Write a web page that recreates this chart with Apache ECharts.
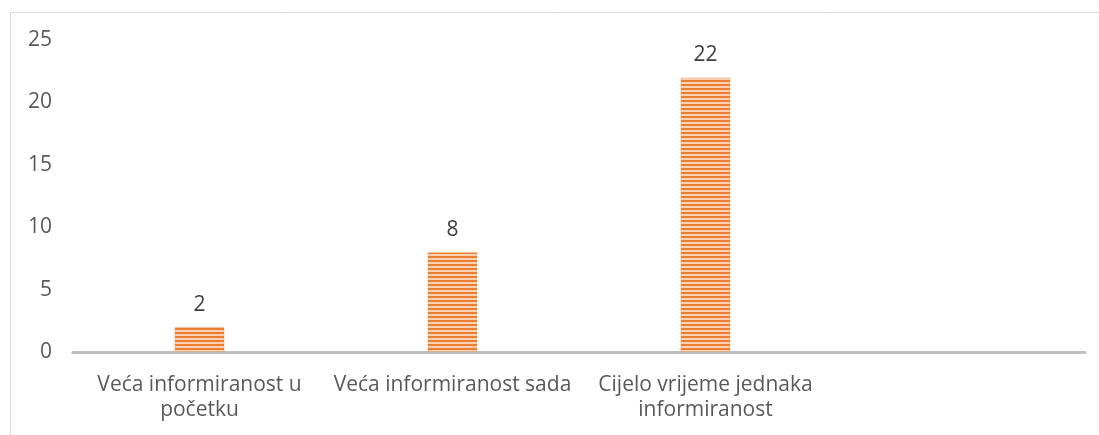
<!DOCTYPE html>
<html>
<head>
<meta charset="utf-8">
<script src="https://cdn.jsdelivr.net/npm/echarts@6/dist/echarts.min.js"></script>
<style>
  html, body { margin: 0; padding: 0; background: #fff; }
  #chart { width: 1099px; height: 435px; }
</style>
</head>
<body>
<div id="chart"></div>
<script>
const categories = ['Veća informiranost u\npočetku', 'Veća informiranost sada', 'Cijelo vrijeme jednaka\ninformiranost', '']
const values = [2, 8, 22, null]
const yTicks = [0, 5, 10, 15, 20, 25]

// horizontal stripe pattern for the bars
function stripes() {
  const c = document.createElement('canvas')
  c.width = 4
  c.height = 4
  const ctx = c.getContext('2d')
  ctx.fillStyle = '#f9d2b6'
  ctx.fillRect(0, 0, 4, 4)
  ctx.fillStyle = '#ed7d31'
  ctx.fillRect(0, 0, 4, 2)
  return c
}

const chart = echarts.init(document.getElementById('chart'))
chart.setOption({
  animation: false,
  graphic: [{
    type: 'rect',
    shape: { x: 10.5, y: 12.5, width: 1100, height: 440 },
    style: { fill: 'none', stroke: '#d9d9d9', lineWidth: 1 },
    silent: true
  }],
  grid: { left: 73, right: 14, top: 40, bottom: 83 },
  xAxis: {
    type: 'category',
    data: categories,
    axisLine: { lineStyle: { color: '#bfbfbf', width: 3 } },
    axisTick: { show: false },
    axisLabel: {
      color: '#595959',
      fontFamily: 'Open Sans',
      fontSize: 21,
      lineHeight: 25,
      margin: 21,
      interval: 0
    }
  },
  yAxis: {
    type: 'value',
    min: yTicks[0],
    max: yTicks[yTicks.length - 1],
    interval: 5,
    axisLine: { show: false },
    axisTick: { show: false },
    splitLine: { show: false },
    axisLabel: {
      color: '#595959',
      fontFamily: 'Open Sans',
      fontSize: 21,
      margin: 21
    }
  },
  series: [{
    type: 'bar',
    data: values,
    barWidth: 50,
    itemStyle: {
      color: { image: stripes(), repeat: 'repeat' },
      borderColor: 'rgba(237,125,49,0.35)',
      borderWidth: 1
    },
    label: {
      show: true,
      position: 'top',
      distance: 12,
      color: '#404040',
      fontFamily: 'Open Sans',
      fontSize: 21
    }
  }]
})
</script>
</body>
</html>
